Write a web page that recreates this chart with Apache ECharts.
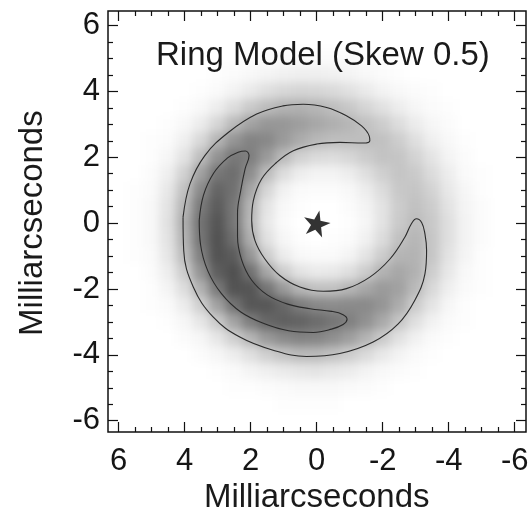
<!DOCTYPE html>
<html><head><meta charset="utf-8">
<script src="https://cdn.jsdelivr.net/npm/echarts@6/dist/echarts.min.js"></script>
<style>
html,body{margin:0;padding:0;background:#fff;}
#wrap{position:relative;width:529px;height:517px;overflow:hidden;background:#fff;}
#shade,#main{position:absolute;left:0;top:0;width:529px;height:517px;}
#shade{filter:blur(5px);}
</style></head><body>
<div id="wrap"><div id="shade"></div><div id="main"></div></div>
<script>
// ---------- data ----------
const titleText = 'Ring Model (Skew 0.5)';
const axisName = 'Milliarcseconds';
const tickValues = [6, 4, 2, 0, -2, -4, -6];
// cell centres (mas): columns left->right (X = +6 ... -6), rows top->bottom (Y = +6 ... -6)
const xCells = [6,5.5,5,4.5,4,3.5,3,2.5,2,1.5,1,0.5,0,-0.5,-1,-1.5,-2,-2.5,-3,-3.5,-4,-4.5,-5,-5.5,-6];
const yCells = [6,5.5,5,4.5,4,3.5,3,2.5,2,1.5,1,0.5,0,-0.5,-1,-1.5,-2,-2.5,-3,-3.5,-4,-4.5,-5,-5.5,-6];
// relative brightness (0 = white, 100 = darkest grey)
const intensity = [
[0,0,0,0,0,0,0,0,0,0,0,0,0,0,0,0,0,0,0,0,0,0,0,0,0],
[0,0,0,0,0,0,0,0,0,0,0,0,0,0,0,0,0,0,0,0,0,0,0,0,0],
[0,0,0,0,0,0,0,0,1,1,2,2,2,2,2,1,1,0,0,0,0,0,0,0,0],
[0,0,0,0,0,0,1,2,4,6,8,9,9,8,6,4,2,1,0,0,0,0,0,0,0],
[0,0,0,0,0,1,3,7,12,18,22,24,23,21,17,12,7,4,2,1,0,0,0,0,0],
[0,0,0,0,1,4,10,19,30,38,43,44,41,37,31,24,17,10,5,2,1,0,0,0,0],
[0,0,0,1,4,11,23,39,52,59,59,55,50,45,41,35,28,19,11,5,2,0,0,0,0],
[0,0,1,2,9,22,42,60,70,67,57,47,40,37,37,37,35,28,18,9,4,1,0,0,0],
[0,0,1,5,16,37,61,76,73,57,39,26,21,20,23,29,34,33,25,15,6,2,0,0,0],
[0,0,2,9,26,53,77,82,64,38,20,10,7,7,10,18,27,33,30,20,10,3,1,0,0],
[0,1,3,13,35,66,87,80,51,23,8,3,2,2,4,10,20,31,33,25,13,5,1,0,0],
[0,1,4,16,41,75,92,77,42,15,4,1,0,0,2,6,16,29,35,29,16,6,2,0,0],
[0,1,4,17,45,79,96,77,40,13,3,0,0,0,1,5,16,30,38,31,18,7,2,0,0],
[0,1,4,16,43,78,98,82,46,17,5,1,0,1,2,8,20,35,41,32,18,7,2,0,0],
[0,1,3,14,38,72,97,92,60,28,11,4,3,3,6,15,29,42,43,32,16,6,1,0,0],
[0,0,2,10,29,61,91,99,80,50,28,16,12,13,18,29,43,50,44,28,13,4,1,0,0],
[0,0,1,6,19,44,75,97,96,78,57,41,35,35,41,50,57,53,39,22,9,3,1,0,0],
[0,0,1,3,11,27,53,79,95,95,86,74,67,65,66,66,60,47,29,15,5,1,0,0,0],
[0,0,0,1,5,14,30,52,73,86,90,88,83,78,72,62,49,33,18,8,3,1,0,0,0],
[0,0,0,0,2,5,14,27,42,57,66,70,69,63,55,43,30,17,8,3,1,0,0,0,0],
[0,0,0,0,0,2,5,10,18,27,34,39,39,35,29,21,13,7,3,1,0,0,0,0,0],
[0,0,0,0,0,0,1,3,6,9,12,14,15,13,11,7,4,2,1,0,0,0,0,0,0],
[0,0,0,0,0,0,0,1,1,2,3,4,4,4,3,2,1,0,0,0,0,0,0,0,0],
[0,0,0,0,0,0,0,0,0,0,1,1,1,1,0,0,0,0,0,0,0,0,0,0,0],
[0,0,0,0,0,0,0,0,0,0,0,0,0,0,0,0,0,0,0,0,0,0,0,0,0]
];
// outer contour (C-shaped crescent)
const outerContour = [[4.05,0.18],[3.84,1.19],[3.39,2.05],[2.68,2.75],[1.82,3.31],[1.02,3.56],[0.41,3.61],[-0.30,3.51],[-0.90,3.26],[-1.36,2.95],[-1.59,2.65],[-1.61,2.50],[-1.41,2.43],[-0.70,2.45],[0.00,2.40],[0.71,2.20],[1.22,1.84],[1.67,1.34],[1.92,0.68],[1.97,0.08],[1.87,-0.53],[1.57,-1.09],[1.12,-1.59],[0.51,-1.94],[-0.20,-2.07],[-0.90,-1.99],[-1.61,-1.64],[-2.22,-1.09],[-2.67,-0.43],[-2.87,-0.02],[-3.02,0.13],[-3.18,0.02],[-3.28,-0.33],[-3.33,-0.83],[-3.28,-1.54],[-2.97,-2.35],[-2.47,-3.06],[-1.71,-3.61],[-0.70,-3.96],[0.31,-4.05],[1.32,-3.86],[2.33,-3.46],[3.14,-2.85],[3.74,-1.94],[4.03,-0.83],[4.05,0.18]];
// inner contour (dark crescent)
const innerContour = [[3.56,0.08],[3.43,0.85],[3.12,1.52],[2.70,1.98],[2.38,2.15],[2.16,2.19],[2.05,2.05],[2.17,1.65],[2.30,1.00],[2.40,0.30],[2.40,-0.40],[2.28,-1.10],[1.98,-1.72],[1.50,-2.18],[0.88,-2.46],[0.20,-2.60],[-0.45,-2.68],[-0.80,-2.78],[-0.92,-2.92],[-0.80,-3.08],[-0.45,-3.22],[0.10,-3.32],[0.85,-3.27],[1.60,-3.05],[2.30,-2.70],[2.88,-2.15],[3.30,-1.45],[3.52,-0.65],[3.56,0.08]];
const starPos = [[0, 0]];

// ---------- layout ----------
const FONT = 'Liberation Sans, Arial, Helvetica, sans-serif';
const plotGrid = { left: 118.7, right: 14.3, top: 25.5, bottom: 96.3, outerBoundsMode: 'none', containLabel: false };

const cells = [];
for (let r = 0; r < yCells.length; r++) {
  for (let c = 0; c < xCells.length; c++) {
    cells.push([xCells[c], yCells[r], intensity[r][c]]);
  }
}

// shaded image layer (blurred)
const shade = echarts.init(document.getElementById('shade'), null, { renderer: 'canvas' });
shade.setOption({
  animation: false,
  backgroundColor: '#ffffff',
  grid: [plotGrid],
  xAxis: [{ type: 'value', min: -6, max: 6, inverse: true, show: false }],
  yAxis: [{ type: 'value', min: -6, max: 6, show: false }],
  visualMap: { show: false, type: 'continuous', min: 0, max: 100, dimension: 2, seriesIndex: 0,
               inRange: { color: ['#ffffff', '#4e4e4e'] } },
  series: [{
    type: 'custom',
    data: cells,
    silent: true,
    renderItem: function (params, api) {
      const x = api.value(0), y = api.value(1);
      const a = api.coord([x + 0.25, y + 0.25]);
      const b = api.coord([x - 0.25, y - 0.25]);
      return {
        type: 'rect',
        shape: {
          x: Math.min(a[0], b[0]) - 0.5, y: Math.min(a[1], b[1]) - 0.5,
          width: Math.abs(b[0] - a[0]) + 1, height: Math.abs(b[1] - a[1]) + 1
        },
        style: { fill: api.visual('color') }
      };
    }
  }]
});

// main layer: frame, axes, contours, star, titles
const tickCommon = {
  axisLine: { show: false, onZero: false },
  axisTick: { show: true, inside: true, length: 10, lineStyle: { color: '#111', width: 1.2 } },
  minorTick: { show: true, splitNumber: 4, length: 5, lineStyle: { color: '#111', width: 1.2 } },
  splitLine: { show: false },
  min: -6, max: 6, interval: 2
};
const labelStyle = { fontFamily: FONT, fontSize: 31, color: '#151515' };

const main = echarts.init(document.getElementById('main'), null, { renderer: 'canvas' });
main.setOption({
  animation: false,
  backgroundColor: 'transparent',
  title: {
    text: titleText, left: 151, top: 34,
    textStyle: { fontFamily: FONT, fontSize: 33, fontWeight: 'normal', color: '#1a1a1a' }
  },
  grid: [
    { left: 108, right: 3, top: 11, bottom: 85, show: true, borderColor: '#111', borderWidth: 1.5,
      backgroundColor: 'transparent', outerBoundsMode: 'none', containLabel: false },
    plotGrid
  ],
  xAxis: [
    { gridIndex: 0, type: 'value', min: 0, max: 1, show: false },
    Object.assign({ gridIndex: 1, type: 'value', inverse: true, position: 'bottom', offset: 11.3,
      axisLabel: Object.assign({ margin: 14 }, labelStyle),
      name: axisName, nameLocation: 'middle', nameGap: 47,
      nameTextStyle: { fontFamily: FONT, fontSize: 33, color: '#1a1a1a' } }, tickCommon),
    Object.assign({ gridIndex: 1, type: 'value', inverse: true, position: 'top', offset: 14.5,
      axisLabel: { show: false } }, tickCommon)
  ],
  yAxis: [
    { gridIndex: 0, type: 'value', min: 0, max: 1, show: false },
    Object.assign({ gridIndex: 1, type: 'value', position: 'left', offset: 10.7,
      axisLabel: Object.assign({ margin: 8 }, labelStyle),
      name: axisName, nameLocation: 'middle', nameGap: 59, nameRotate: 90,
      nameTextStyle: { fontFamily: FONT, fontSize: 33, color: '#1a1a1a' } }, tickCommon),
    Object.assign({ gridIndex: 1, type: 'value', position: 'right', offset: 11.3,
      axisLabel: { show: false } }, tickCommon)
  ],
  series: [
    { type: 'line', xAxisIndex: 1, yAxisIndex: 1, data: outerContour, smooth: 0.4,
      showSymbol: false, symbol: 'none', silent: true,
      lineStyle: { color: '#2a2a2a', width: 1.1 } },
    { type: 'line', xAxisIndex: 1, yAxisIndex: 1, data: innerContour, smooth: 0.4,
      showSymbol: false, symbol: 'none', silent: true,
      lineStyle: { color: '#2a2a2a', width: 1.1 } },
    { type: 'scatter', xAxisIndex: 1, yAxisIndex: 1, data: starPos, silent: true,
      symbol: 'path://M50,0 L61.2,34.5 L97.6,34.5 L68.2,55.9 L79.4,90.5 L50,69.1 L20.6,90.5 L31.8,55.9 L2.4,34.5 L38.8,34.5 Z',
      symbolSize: [27, 26], symbolRotate: -12, itemStyle: { color: '#000' } }
  ]
});
</script>
</body></html>
